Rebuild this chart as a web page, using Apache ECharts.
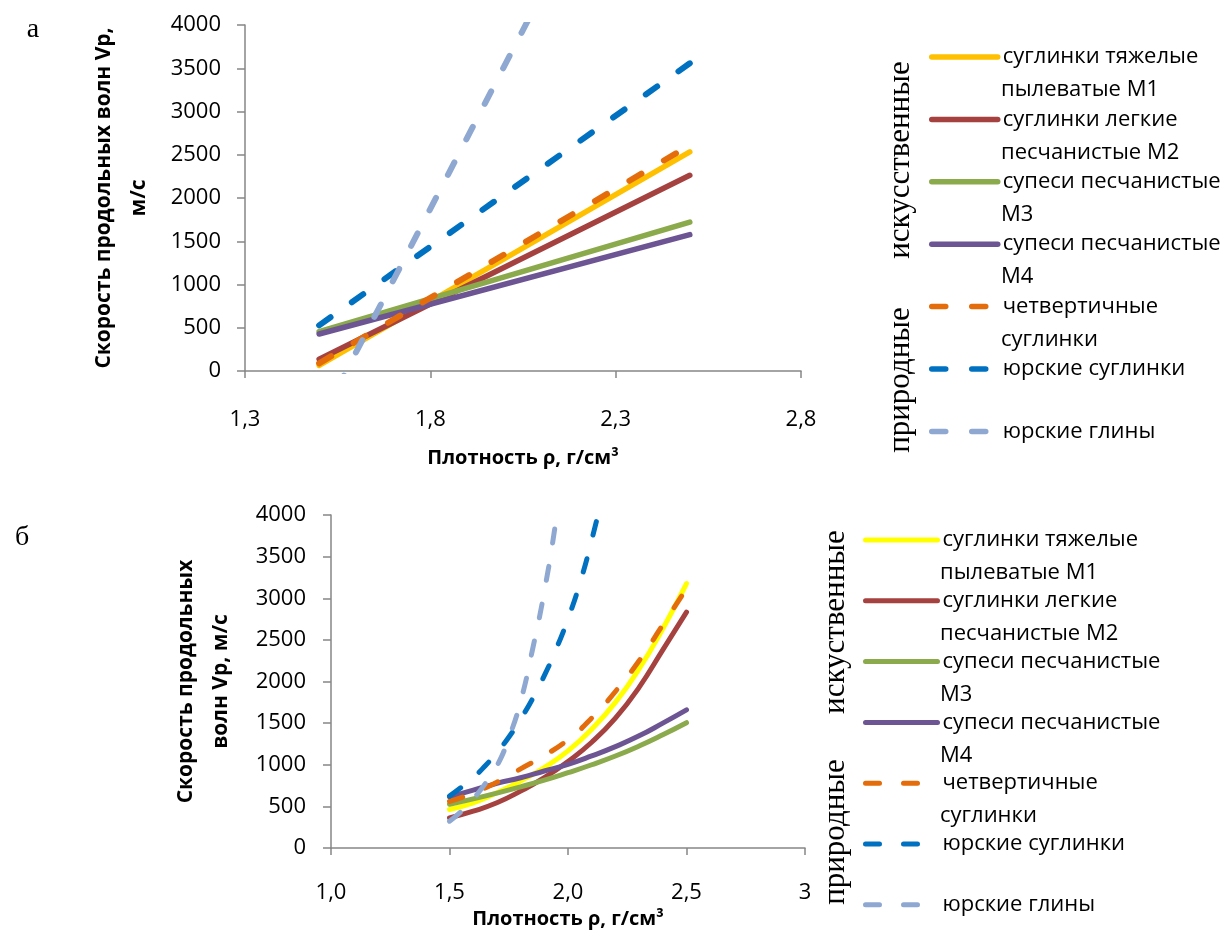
<!DOCTYPE html>
<html>
<head>
<meta charset="utf-8">
<script src="https://cdn.jsdelivr.net/npm/echarts@6/dist/echarts.min.js"></script>
<style>
html,body{margin:0;padding:0;background:#fff;width:1229px;height:943px;overflow:hidden}
#a{position:absolute;left:0;top:0;width:1229px;height:480px}
#b{position:absolute;left:0;top:480px;width:1229px;height:463px}
</style>
</head>
<body>
<div id="a"></div>
<div id="b"></div>
<script>
// ---------- shared text ----------
const seriesNames = [
  'суглинки тяжелые пылеватые М1',
  'суглинки легкие песчанистые М2',
  'супеси песчанистые М3',
  'супеси песчанистые М4',
  'четвертичные суглинки',
  'юрские суглинки',
  'юрские глины'
];
const legendLine1 = ['суглинки тяжелые', 'суглинки легкие', 'супеси песчанистые', 'супеси песчанистые', 'четвертичные', 'юрские суглинки', 'юрские глины'];
const legendLine2 = ['пылеватые М1', 'песчанистые М2', 'М3', 'М4', 'суглинки', '', ''];
const dashedFlags = [false, false, false, false, true, true, true];
const yTitleA = 'Скорость продольных волн Vp,\nм/с';
const yTitleB = 'Скорость продольных\nволн Vp, м/с';
const xTitle = 'Плотность ρ, г/см³';
const groupArt = ['искусственные', 'искуственные'];
const groupNat = 'природные';
const panelLabels = ['а', 'б'];

// ---------- panel а (linear) ----------
const xTicksA = [1.3, 1.8, 2.3, 2.8];
const aX = [1.5, 2.5];
const aM1 = [66, 2532];
const aM2 = [135, 2262];
const aM3 = [455, 1722];
const aM4 = [428, 1576];
const aQuat = [89, 2610];
const aJurLoam = [528, 3557];
const aJurClay = [-607, 7665];
const colorsA = ['#FFC000', '#A5423F', '#8AAA4C', '#6D5593', '#E46C0A', '#0070C0', '#8EA8D2'];

// ---------- panel б (curved) ----------
const xTicksB = [1.0, 1.5, 2.0, 2.5, 3.0];
const bX = [1.5, 1.6, 1.7, 1.8, 1.9, 2.0, 2.1, 2.2, 2.3, 2.4, 2.5];
const bM1 = [462, 543, 663, 804, 965, 1166, 1427, 1749, 2151, 2633, 3176];
const bM2 = [362, 442, 543, 683, 845, 1040, 1270, 1560, 1930, 2380, 2834];
const bM3 = [525, 590, 660, 735, 815, 905, 1000, 1105, 1225, 1360, 1505];
const bM4 = [615, 695, 776, 844, 925, 1005, 1106, 1218, 1347, 1500, 1660];
const bQuat = [560, 660, 790, 950, 1110, 1300, 1560, 1880, 2250, 2680, 3116];
const bXJurLoam = [1.5, 1.55, 1.6, 1.65, 1.7, 1.75, 1.8, 1.85, 1.9, 1.95, 2.0, 2.05, 2.1, 2.15, 2.2];
const bJurLoam = [623, 730, 844, 985, 1146, 1330, 1548, 1790, 2070, 2390, 2754, 3180, 3700, 4300, 5000];
const bXJurClay = [1.5, 1.55, 1.6, 1.65, 1.7, 1.75, 1.8, 1.85, 1.9, 1.95, 2.0];
const bJurClay = [322, 440, 590, 770, 985, 1320, 1760, 2380, 3080, 3950, 5000];
const colorsB = ['#FFFF00', '#A5423F', '#8AAA4C', '#6D5593', '#E46C0A', '#0070C0', '#8EA8D2'];

const FONT = 'Open Sans';
const SERIF = 'Liberation Serif';
const pairs = (xs, ys) => xs.map((x, i) => [x, ys[i]]);
const fmtComma = v => (v === 3 ? '3' : v.toFixed(1).replace('.', ','));
const fmtPlain = v => String(v);

function makeSeries(xsList, ysList, colors, solidW, dashW, dash, smooth) {
  return seriesNames.map((name, i) => ({
    name: name,
    type: 'line',
    data: pairs(xsList[i], ysList[i]),
    symbol: 'none',
    showSymbol: false,
    smooth: smooth,
    clip: true,
    color: colors[i],
    lineStyle: {
      color: colors[i],
      width: dashedFlags[i] ? dashW : solidW,
      cap: 'round',
      join: 'round',
      type: dashedFlags[i] ? dash : 'solid'
    },
    z: 2 + i
  }));
}

function makeOption(cfg) {
  const graphics = [];
  legendLine2.forEach((t, k) => {
    if (!t) return;
    graphics.push({
      type: 'text', x: cfg.legTextX, y: cfg.legFirstY + cfg.legSpacing * k + cfg.legLine2Off,
      style: { text: t, font: '22px "' + FONT + '"', fill: '#000', textAlign: 'left', textVerticalAlign: 'middle' }
    });
  });
  graphics.push({
    type: 'text', x: cfg.grpX, y: cfg.artY, rotation: Math.PI / 2,
    style: { text: cfg.artText, font: '31px "' + SERIF + '"', fill: '#000', textAlign: 'center', textVerticalAlign: 'middle' }
  });
  graphics.push({
    type: 'text', x: cfg.grpX, y: cfg.natY, rotation: Math.PI / 2,
    style: { text: groupNat, font: '31px "' + SERIF + '"', fill: '#000', textAlign: 'center', textVerticalAlign: 'middle' }
  });
  graphics.push({
    type: 'text', x: cfg.panelX, y: cfg.panelY,
    style: { text: cfg.panelText, font: '28px "' + SERIF + '"', fill: '#000', textAlign: 'center', textVerticalAlign: 'middle' }
  });

  const axisLineStyle = { color: '#868686', width: 1.5 };
  return {
    animation: false,
    backgroundColor: 'transparent',
    grid: { left: cfg.gridLeft, top: cfg.gridTop, width: cfg.gridW, height: cfg.gridH, containLabel: false },
    xAxis: {
      type: 'value', min: cfg.xMin, max: cfg.xMax,
      axisLine: { show: true, onZero: false, lineStyle: axisLineStyle },
      axisTick: { show: true, customValues: cfg.xTicks, length: 7, inside: false, lineStyle: axisLineStyle },
      axisLabel: { customValues: cfg.xTicks, formatter: fmtComma, margin: cfg.xLabMargin, fontFamily: FONT, fontSize: 22, color: '#000' },
      splitLine: { show: false },
      name: xTitle, nameLocation: 'middle', nameGap: cfg.xNameGap,
      nameTextStyle: { fontFamily: FONT, fontWeight: 'bold', fontSize: 20, color: '#000' }
    },
    yAxis: {
      type: 'value', min: 0, max: 4000, interval: 500,
      axisLine: { show: true, lineStyle: axisLineStyle },
      axisTick: { show: true, length: 8, inside: false, lineStyle: axisLineStyle },
      axisLabel: { formatter: fmtPlain, margin: cfg.yLabMargin, fontFamily: FONT, fontSize: 22, color: '#000' },
      splitLine: { show: false },
      name: cfg.yTitle, nameLocation: 'middle', nameRotate: 90, nameGap: cfg.yNameGap,
      nameTextStyle: { fontFamily: FONT, fontWeight: 'bold', fontSize: 21, lineHeight: 35, color: '#000', align: 'center' }
    },
    legend: {
      orient: 'vertical', left: cfg.legLeft, top: cfg.legTop,
      itemWidth: cfg.legIconW, itemHeight: 12, itemGap: cfg.legSpacing - 30,
      padding: 0,
      data: seriesNames,
      formatter: n => legendLine1[seriesNames.indexOf(n)],
      itemStyle: { opacity: 0 },
      lineStyle: { width: cfg.lineW, cap: 'round' },
      textStyle: { fontFamily: FONT, fontSize: 22, color: '#000', lineHeight: 30 },
      selectedMode: false
    },
    graphic: graphics,
    series: cfg.series
  };
}

const chartA = echarts.init(document.getElementById('a'), null, { renderer: 'canvas' });
chartA.setOption(makeOption({
  gridLeft: 245, gridTop: 25, gridW: 556, gridH: 346,
  xMin: 1.3, xMax: 2.8, xTicks: xTicksA, xLabMargin: 38, xNameGap: 77,
  yLabMargin: 24, yTitle: yTitleA, yNameGap: 88,
  legLeft: 929, legTop: 42, legIconW: 66, legSpacing: 62.4, lineW: 5.5,
  legTextX: 1001, legFirstY: 57, legLine2Off: 33,
  grpX: 901, artY: 160, natY: 380, artText: groupArt[0],
  panelX: 33, panelY: 30, panelText: panelLabels[0],
  series: makeSeries([aX, aX, aX, aX, aX, aX, aX], [aM1, aM2, aM3, aM4, aQuat, aJurLoam, aJurClay], colorsA, 5.5, 6, [14, 26], false)
}));

const chartB = echarts.init(document.getElementById('b'), null, { renderer: 'canvas' });
chartB.setOption(makeOption({
  gridLeft: 331, gridTop: 35, gridW: 474, gridH: 333,
  xMin: 1.0, xMax: 3.0, xTicks: xTicksB, xLabMargin: 34, xNameGap: 58,
  yLabMargin: 25, yTitle: yTitleB, yNameGap: 92,
  legLeft: 863, legTop: 45, legIconW: 72, legSpacing: 60.8, lineW: 5,
  legTextX: 940, legFirstY: 60, legLine2Off: 33,
  grpX: 836, artY: 142, natY: 352, artText: groupArt[1],
  panelX: 22, panelY: 58, panelText: panelLabels[1],
  series: makeSeries([bX, bX, bX, bX, bX, bXJurLoam, bXJurClay], [bM1, bM2, bM3, bM4, bQuat, bJurLoam, bJurClay], colorsB, 5, 5, [14, 24], true)
}));
</script>
</body>
</html>
